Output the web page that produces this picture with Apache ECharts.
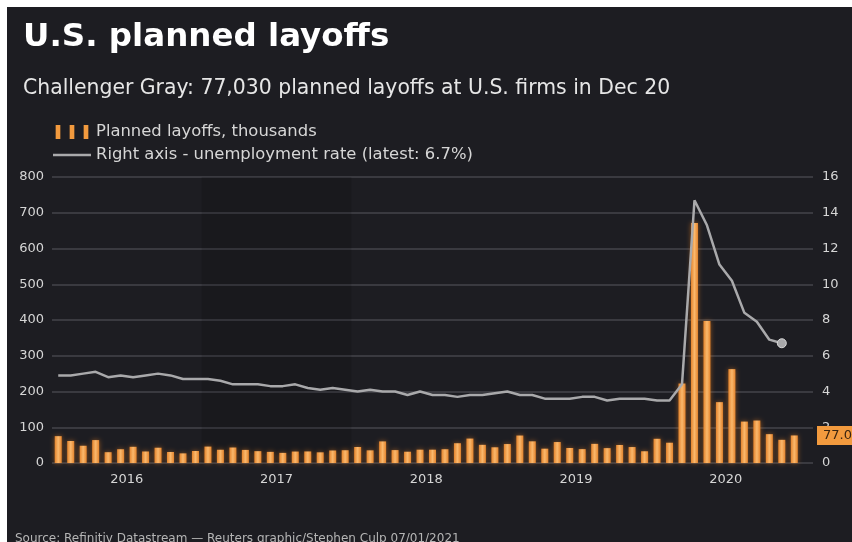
<!DOCTYPE html>
<html>
<head>
<meta charset="utf-8">
<script src="https://cdn.jsdelivr.net/npm/echarts@6/dist/echarts.min.js"></script>
<style>
html,body{margin:0;padding:0;background:#ffffff;width:852px;height:542px;overflow:hidden;}
#main{position:absolute;left:7px;top:7px;width:845px;height:535px;}
</style>
</head>
<body>
<div id="main"></div>
<script>
// ---- data ----
const years = ['2016', '2017', '2018', '2019', '2020'];
const monthsPerYear = 12;
// Challenger planned layoffs, thousands, Jan 2016 .. Dec 2020
const layoffs2016 = [75.1, 61.6, 48.2, 64.1, 30.2, 38.5, 45.3, 32.2, 42.7, 30.7, 26.9, 33.6];
const layoffs2017 = [45.9, 37.0, 43.3, 36.6, 33.1, 31.1, 28.3, 32.0, 32.3, 29.8, 35.0, 35.7];
const layoffs2018 = [44.7, 35.4, 60.4, 36.1, 31.5, 37.2, 37.2, 38.5, 55.3, 68.3, 50.8, 43.9];
const layoffs2019 = [53.0, 76.8, 60.6, 40.0, 58.6, 42.0, 38.8, 53.5, 41.6, 50.3, 44.6, 32.8];
const layoffs2020 = [67.7, 56.7, 222.3, 671.1, 397.0, 170.2, 262.6, 115.8, 118.8, 80.7, 64.8, 77.03];
// Unemployment rate, %, Jan 2016 .. Nov 2020
const unemp2016 = [4.9, 4.9, 5.0, 5.1, 4.8, 4.9, 4.8, 4.9, 5.0, 4.9, 4.7, 4.7];
const unemp2017 = [4.7, 4.6, 4.4, 4.4, 4.4, 4.3, 4.3, 4.4, 4.2, 4.1, 4.2, 4.1];
const unemp2018 = [4.0, 4.1, 4.0, 4.0, 3.8, 4.0, 3.8, 3.8, 3.7, 3.8, 3.8, 3.9];
const unemp2019 = [4.0, 3.8, 3.8, 3.6, 3.6, 3.6, 3.7, 3.7, 3.5, 3.6, 3.6, 3.6];
const unemp2020 = [3.5, 3.5, 4.4, 14.7, 13.3, 11.1, 10.2, 8.4, 7.9, 6.9, 6.7];
const leftTicks = {min: 0, max: 800, interval: 100};
const rightTicks = {min: 0, max: 16, interval: 2};
const latestLabel = '77.0';
const shadedYear = '2017';

const layoffs = [].concat(layoffs2016, layoffs2017, layoffs2018, layoffs2019, layoffs2020);
const unemp = [].concat(unemp2016, unemp2017, unemp2018, unemp2019, unemp2020);

const FONT = 'DejaVu Sans';
const barData = layoffs.map((v, i) => [i + 0.5, v]);
const lineData = unemp.map((v, i) => {
  const item = {value: [i + 0.5, v]};
  if (i === unemp.length - 1) {
    item.symbol = 'circle';
    item.symbolSize = 9;
    item.itemStyle = {color: '#a9a9ab', borderColor: '#d8d8d8', borderWidth: 1};
  }
  return item;
});
const shadeIdx = years.indexOf(shadedYear);

const chart = echarts.init(document.getElementById('main'), null, {renderer: 'canvas'});
chart.setOption({
  backgroundColor: '#1d1d22',
  animation: false,
  title: [
    {text: 'U.S. planned layoffs', left: 11, top: 9,
     textStyle: {color: '#ffffff', fontFamily: FONT, fontWeight: 'bold', fontSize: 32.5}},
    {text: 'Challenger Gray: 77,030 planned layoffs at U.S. firms in Dec 20', left: 11, top: 67,
     textStyle: {color: '#e6e6e6', fontFamily: FONT, fontWeight: 'normal', fontSize: 20.4}},
    {text: 'Source: Refinitiv Datastream \u2014 Reuters graphic/Stephen Culp 07/01/2021', left: 3, top: 521,
     textStyle: {color: '#b5b5b5', fontFamily: FONT, fontWeight: 'normal', fontSize: 12}}
  ],
  legend: {
    orient: 'vertical', left: 41, top: 112, itemWidth: 38, itemHeight: 14, itemGap: 7,
    textStyle: {color: '#d6d6d6', fontFamily: FONT, fontSize: 16.4},
    data: [
      {name: 'Planned layoffs, thousands',
       icon: 'path://M0,0h4v12h-4z M12,0h4v12h-4z M24,0h4v12h-4z',
       itemStyle: {color: '#f29a3e'}},
      {name: 'Right axis - unemployment rate (latest: 6.7%)',
       icon: 'path://M0,0h38v2.5h-38z',
       itemStyle: {color: '#a9a9ab'}}
    ],
    selectedMode: false
  },
  grid: {left: 45, right: 39, top: 170, bottom: 79},
  xAxis: {
    type: 'value', min: 0, max: years.length * monthsPerYear + 1, interval: monthsPerYear / 2,
    axisLine: {show: false}, axisTick: {show: false}, splitLine: {show: false},
    axisLabel: {
      color: '#d6d6d6', fontFamily: FONT, fontSize: 13, margin: 10,
      showMinLabel: true, showMaxLabel: false,
      formatter: function (v) {
        if (v % monthsPerYear === monthsPerYear / 2) {
          return years[(v - monthsPerYear / 2) / monthsPerYear] || '';
        }
        return '';
      }
    }
  },
  yAxis: [
    {type: 'value', min: leftTicks.min, max: leftTicks.max, interval: leftTicks.interval,
     axisLine: {show: false}, axisTick: {show: false},
     axisLabel: {color: '#d6d6d6', fontFamily: FONT, fontSize: 13, margin: 8},
     splitLine: {lineStyle: {color: '#3a3a40', width: 2}}},
    {type: 'value', min: rightTicks.min, max: rightTicks.max, interval: rightTicks.interval,
     axisLine: {show: false}, axisTick: {show: false},
     axisLabel: {color: '#d6d6d6', fontFamily: FONT, fontSize: 13, margin: 9},
     splitLine: {show: false}}
  ],
  series: [
    {
      name: 'Planned layoffs, thousands', type: 'bar', yAxisIndex: 0, barWidth: 7,
      data: barData, z: 3,
      itemStyle: {
        color: new echarts.graphic.LinearGradient(0, 0, 1, 0, [
          {offset: 0, color: '#e4842d'}, {offset: 0.5, color: '#fab86c'}, {offset: 1, color: '#e4842d'}
        ]),
        shadowColor: 'rgba(240,130,30,0.55)', shadowBlur: 5
      },
      markArea: {
        silent: true,
        itemStyle: {color: 'rgba(0,0,0,0.12)'},
        data: [[{xAxis: shadeIdx * monthsPerYear}, {xAxis: (shadeIdx + 1) * monthsPerYear}]]
      },
      markLine: {
        silent: true, symbol: 'none', z: 10,
        lineStyle: {color: 'rgba(0,0,0,0)', width: 0.01, type: 'solid'},
        label: {
          show: true, position: 'end', formatter: latestLabel, distance: 4,
          backgroundColor: '#f29a3e', color: '#3a2410', fontFamily: FONT, fontSize: 13,
          padding: [3, 9, 3, 6], opacity: 1
        },
        data: [{yAxis: layoffs[layoffs.length - 1]}]
      }
    },
    {
      name: 'Right axis - unemployment rate (latest: 6.7%)', type: 'line', yAxisIndex: 1,
      data: lineData, symbol: 'none', showAllSymbol: true, z: 4,
      lineStyle: {color: '#a9a9ab', width: 2.5},
      itemStyle: {color: '#a9a9ab'}
    }
  ]
});
</script>
</body>
</html>
